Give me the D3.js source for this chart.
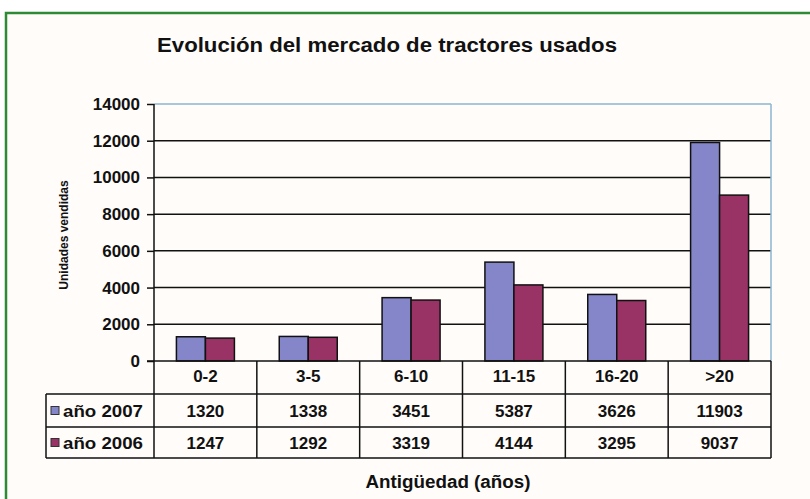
<!DOCTYPE html>
<html>
<head>
<meta charset="utf-8">
<script src="https://cdn.jsdelivr.net/npm/d3@7"></script>
<style>
  body { margin: 0; background: #fff; }
  text { font-family: "Liberation Sans", Arial, sans-serif; font-weight: bold; fill: #111; }
</style>
</head>
<body>
<svg id="chart" width="810" height="499"></svg>
<script>
// data
const categories = ["0-2", "3-5", "6-10", "11-15", "16-20", ">20"];
const years = ["año 2007", "año 2006"];
const ventas2007 = [1320, 1338, 3451, 5387, 3626, 11903];
const ventas2006 = [1247, 1292, 3319, 4144, 3295, 9037];
const yTicks = [0, 2000, 4000, 6000, 8000, 10000, 12000, 14000];

const colors = ["#8585c9", "#993366"];
const series = [ventas2007, ventas2006];

const svg = d3.select("#chart");

// green frame + cream background
svg.append("rect").attr("x", 6).attr("y", 13).attr("width", 820).attr("height", 500)
  .attr("fill", "#fffcf9").attr("stroke", "#2f8a35").attr("stroke-width", 2.5);

const plotL = 154, plotR = 771, plotT = 104, plotB = 361;
const rowH = [33, 33, 31];
const tableLeft = 46;

const x = d3.scaleBand().domain(categories).range([plotL, plotR]);
const x1 = d3.scaleBand().domain([0, 1]).range([0, 58]);
const y = d3.scaleLinear().domain([0, 14000]).range([plotB, plotT]);

// title
svg.append("text")
  .attr("x", 387).attr("y", 52)
  .attr("text-anchor", "middle")
  .attr("font-size", 20)
  .attr("textLength", 460).attr("lengthAdjust", "spacingAndGlyphs")
  .text("Evolución  del mercado de tractores usados");

// gridlines
svg.append("g").selectAll("line").data(yTicks.filter(d => d > 0)).join("line")
  .attr("x1", plotL).attr("x2", plotR)
  .attr("y1", d => y(d)).attr("y2", d => y(d))
  .attr("stroke", d => d == 14000 ? "#8db6cf" : "#111")
  .attr("stroke-width", 1.5);

// right border of plot
svg.append("line").attr("x1", plotR).attr("x2", plotR).attr("y1", plotT).attr("y2", plotB)
  .attr("stroke", "#8db6cf").attr("stroke-width", 1.5);

// y axis
const yAxis = d3.axisLeft(y).tickValues(yTicks).tickSize(7).tickPadding(7).tickFormat(d3.format("d"));
const ya = svg.append("g").attr("transform", `translate(${plotL},0)`).call(yAxis);
ya.select(".domain").remove();
ya.selectAll(".tick line").attr("stroke", "#111").attr("stroke-width", 1.5);
ya.selectAll(".tick text").attr("font-size", 17).attr("font-family", null).attr("fill", "#111");

svg.append("text")
  .attr("transform", "translate(68,235) rotate(-90)")
  .attr("text-anchor", "middle")
  .attr("font-size", 12)
  .text("Unidades vendidas");

// bars
const groups = svg.append("g").selectAll("g").data(categories).join("g")
  .attr("transform", d => `translate(${x(d) + x.bandwidth() / 2 - 29},0)`);
groups.selectAll("rect").data((d, i) => series.map((s, j) => ({ j, v: s[i] }))).join("rect")
  .attr("x", d => x1(d.j))
  .attr("width", x1.bandwidth())
  .attr("y", d => y(d.v))
  .attr("height", d => y(0) - y(d.v))
  .attr("fill", d => colors[d.j])
  .attr("stroke", "#111").attr("stroke-width", 1.5);

// data table
const r0 = plotB, r1 = r0 + rowH[0], r2 = r1 + rowH[1], r3 = r2 + rowH[2];
const tbl = svg.append("g").attr("stroke", "#111").attr("stroke-width", 1.5);
tbl.append("line").attr("x1", plotL - 7).attr("x2", plotR).attr("y1", r0).attr("y2", r0);
[r1, r2, r3].forEach(r => tbl.append("line").attr("x1", tableLeft).attr("x2", plotR).attr("y1", r).attr("y2", r));
tbl.append("line").attr("x1", plotL).attr("x2", plotL).attr("y1", plotT).attr("y2", r3);
tbl.append("line").attr("x1", tableLeft).attr("x2", tableLeft).attr("y1", r1).attr("y2", r3);
tbl.selectAll(".sep").data(categories).join("line")
  .attr("x1", d => x(d) + x.bandwidth()).attr("x2", d => x(d) + x.bandwidth())
  .attr("y1", r0).attr("y2", r3);

svg.append("g").selectAll("text").data(categories).join("text")
  .attr("x", d => x(d) + x.bandwidth() / 2).attr("y", r0 + 21)
  .attr("text-anchor", "middle").attr("font-size", 17)
  .text(d => d);

const rowsY = [r1 + rowH[1] / 2, r2 + rowH[2] / 2];
series.forEach((s, j) => {
  svg.append("g").selectAll("text").data(s).join("text")
    .attr("x", (d, i) => x(categories[i]) + x.bandwidth() / 2).attr("y", rowsY[j] + 6)
    .attr("text-anchor", "middle").attr("font-size", 17)
    .text(d => d);
  svg.append("rect").attr("x", 51).attr("y", rowsY[j] - 4).attr("width", 8).attr("height", 8)
    .attr("fill", colors[j]).attr("stroke", "#333").attr("stroke-width", 1);
  svg.append("text").attr("x", 63).attr("y", rowsY[j] + 6).attr("font-size", 17)
    .attr("textLength", 80).attr("lengthAdjust", "spacingAndGlyphs")
    .text(years[j]);
});

svg.append("text")
  .attr("x", 448).attr("y", 488)
  .attr("text-anchor", "middle").attr("font-size", 18)
  .attr("textLength", 165).attr("lengthAdjust", "spacingAndGlyphs")
  .text("Antigüedad (años)");
</script>
</body>
</html>
